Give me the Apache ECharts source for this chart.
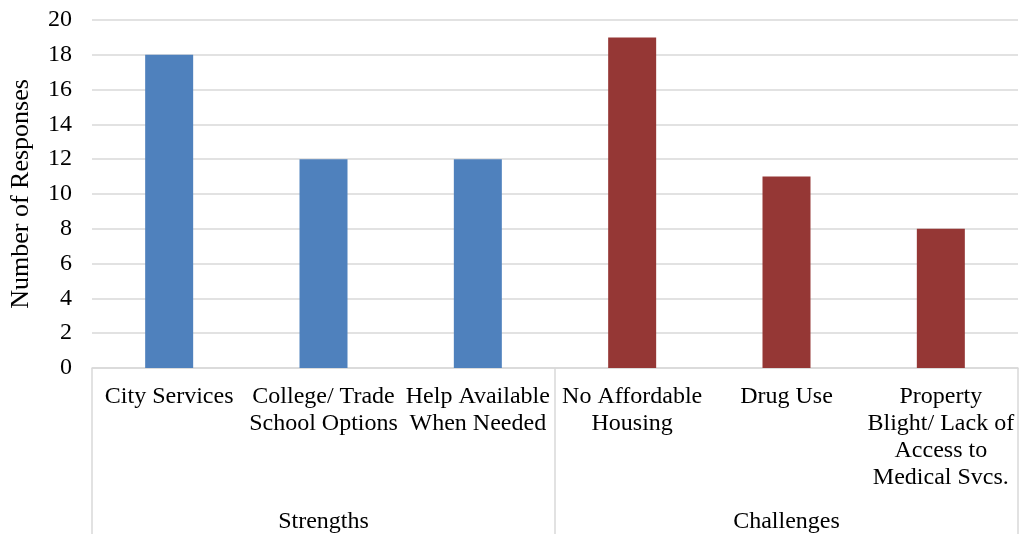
<!DOCTYPE html>
<html>
<head>
<meta charset="utf-8">
<script src="https://cdn.jsdelivr.net/npm/echarts@6/dist/echarts.min.js"></script>
<style>
  html, body { margin: 0; padding: 0; background: #fff; }
  #main { width: 1023px; height: 534px; }
</style>
</head>
<body>
<div id="main"></div>
<script>
// categories and values
var categories = ['City Services', 'College/ Trade\nSchool Options', 'Help Available\nWhen Needed',
                  'No Affordable\nHousing', 'Drug Use', 'Property\nBlight/ Lack of\nAccess to\nMedical Svcs.'];
var responses = [18, 12, 12, 19, 11, 8];
var groups = ['Strengths', 'Challenges'];
var groupSize = 3;   // categories per group

var font = 'Liberation Serif, Times New Roman, serif';
var myChart = echarts.init(document.getElementById('main'));

myChart.setOption({
    animation: false,
    grid: { left: 90, right: 5, top: 20, bottom: 166, containLabel: false },
    xAxis: [{
        type: 'category',
        data: categories,
        axisLine: { lineStyle: { color: '#d9d9d9', width: 1.5 } },
        axisTick: { show: false },
        axisLabel: {
            color: '#000', fontFamily: font, fontSize: 24, lineHeight: 27,
            margin: 15, interval: 0
        }
    }, {
        type: 'category',
        data: groups,
        position: 'bottom',
        axisLine: { show: false },
        axisTick: { show: true, length: 166, lineStyle: { color: '#d9d9d9', width: 1.5 } },
        axisLabel: { color: '#000', fontFamily: font, fontSize: 24, margin: 142, interval: 0 }
    }],
    yAxis: {
        type: 'value',
        min: 0, max: 20, interval: 2,
        name: 'Number of Responses',
        nameLocation: 'middle',
        nameGap: 58,
        nameTextStyle: { color: '#000', fontFamily: font, fontSize: 26 },
        axisLine: { show: false },
        axisTick: { show: false },
        axisLabel: { color: '#000', fontFamily: font, fontSize: 24, margin: 20 },
        splitLine: { lineStyle: { color: '#d9d9d9', width: 1.5 } }
    },
    series: [{
        type: 'bar',
        xAxisIndex: 0,
        data: responses,
        barWidth: 48,
        itemStyle: {
            color: function (p) { return p.dataIndex < groupSize ? '#4f81bd' : '#953735'; }
        }
    }]
});
</script>
</body>
</html>
